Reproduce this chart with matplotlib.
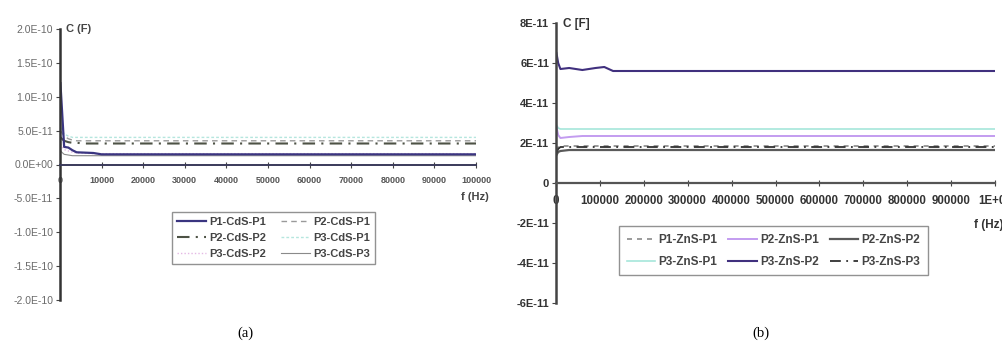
import matplotlib
matplotlib.use("Agg")
import matplotlib.pyplot as plt
import numpy as np
from matplotlib.ticker import FuncFormatter

# ---------------- data: panel (a) CdS ----------------
freq_a = [100, 1000, 2000, 3000, 4000, 6000, 8000, 10000, 20000, 40000, 60000, 80000, 100000]
p1_cds_p1 = [1.2e-10, 2.6e-11, 2.5e-11, 2.1e-11, 1.8e-11, 1.75e-11, 1.7e-11, 1.5e-11, 1.5e-11, 1.5e-11, 1.5e-11, 1.5e-11, 1.5e-11]
p2_cds_p1 = [5.0e-11, 4.2e-11, 3.8e-11, 3.6e-11, 3.5e-11, 3.5e-11, 3.5e-11, 3.5e-11, 3.5e-11, 3.5e-11, 3.5e-11, 3.5e-11, 3.5e-11]
p2_cds_p2 = [4.0e-11, 3.5e-11, 3.3e-11, 3.2e-11, 3.2e-11, 3.1e-11, 3.1e-11, 3.1e-11, 3.1e-11, 3.1e-11, 3.1e-11, 3.1e-11, 3.1e-11]
p3_cds_p1 = [5.5e-11, 4.5e-11, 4.2e-11, 4.0e-11, 4.0e-11, 4.0e-11, 4.0e-11, 4.0e-11, 4.0e-11, 4.0e-11, 4.0e-11, 4.0e-11, 4.0e-11]
p3_cds_p2 = [3.0e-11, 2.2e-11, 2.0e-11, 1.8e-11, 1.7e-11, 1.65e-11, 1.6e-11, 1.6e-11, 1.6e-11, 1.6e-11, 1.6e-11, 1.6e-11, 1.6e-11]
p3_cds_p3 = [2.0e-11, 1.5e-11, 1.4e-11, 1.3e-11, 1.3e-11, 1.3e-11, 1.3e-11, 1.3e-11, 1.3e-11, 1.3e-11, 1.3e-11, 1.3e-11, 1.3e-11]
yticks_a = [-2.0e-10, -1.5e-10, -1.0e-10, -5.0e-11, 0.0, 5.0e-11, 1.0e-10, 1.5e-10, 2.0e-10]
xticks_a = [0, 10000, 20000, 30000, 40000, 50000, 60000, 70000, 80000, 90000, 100000]

# ---------------- data: panel (b) ZnS ----------------
freq_b = [1000, 5000, 10000, 30000, 60000, 90000, 110000, 130000, 200000, 400000, 600000, 800000, 1000000]
p1_zns_p1 = [1.6e-11, 1.8e-11, 1.85e-11, 1.85e-11, 1.85e-11, 1.85e-11, 1.85e-11, 1.85e-11, 1.85e-11, 1.85e-11, 1.85e-11, 1.85e-11, 1.85e-11]
p2_zns_p1 = [2.8e-11, 2.4e-11, 2.25e-11, 2.3e-11, 2.35e-11, 2.35e-11, 2.35e-11, 2.35e-11, 2.35e-11, 2.35e-11, 2.35e-11, 2.35e-11, 2.35e-11]
p2_zns_p2 = [1.4e-11, 1.55e-11, 1.6e-11, 1.65e-11, 1.65e-11, 1.65e-11, 1.65e-11, 1.65e-11, 1.65e-11, 1.65e-11, 1.65e-11, 1.65e-11, 1.65e-11]
p3_zns_p1 = [2.9e-11, 2.75e-11, 2.7e-11, 2.7e-11, 2.7e-11, 2.7e-11, 2.7e-11, 2.7e-11, 2.7e-11, 2.7e-11, 2.7e-11, 2.7e-11, 2.7e-11]
p3_zns_p2 = [6.5e-11, 6.0e-11, 5.7e-11, 5.75e-11, 5.65e-11, 5.75e-11, 5.8e-11, 5.6e-11, 5.6e-11, 5.6e-11, 5.6e-11, 5.6e-11, 5.6e-11]
p3_zns_p3 = [1.5e-11, 1.7e-11, 1.8e-11, 1.8e-11, 1.8e-11, 1.8e-11, 1.8e-11, 1.8e-11, 1.8e-11, 1.8e-11, 1.8e-11, 1.8e-11, 1.8e-11]
yticks_b = [-6e-11, -4e-11, -2e-11, 0.0, 2e-11, 4e-11, 6e-11, 8e-11]
xticks_b = [0, 100000, 200000, 300000, 400000, 500000, 600000, 700000, 800000, 900000, 1000000]

fig = plt.figure(figsize=(10.03, 3.46), dpi=100)
plt.rcParams['font.family'] = ['Liberation Sans', 'DejaVu Sans']

W, H = 1003, 346
def fx(px): return px / W
def fy(py): return 1 - py / H

# ---------------- panel (a) ----------------
axa = fig.add_axes([fx(60), fy(300), fx(476 - 60), (300 - 29) / H])
axa.plot(freq_a, p3_cds_p1, color='#b5e6de', lw=1.0, ls=(0, (2, 1.5)), label='P3-CdS-P1')
axa.plot(freq_a, p2_cds_p1, color='#9a9a9a', lw=1.0, ls=(0, (4, 3)), label='P2-CdS-P1')
axa.plot(freq_a, p2_cds_p2, color='#4d5245', lw=1.5, ls=(0, (6, 3, 1, 3)), label='P2-CdS-P2')
axa.plot(freq_a, p3_cds_p2, color='#e4b8e4', lw=1.0, ls=(0, (1, 1.5)), label='P3-CdS-P2')
axa.plot(freq_a, p3_cds_p3, color='#8a8a8a', lw=0.8, label='P3-CdS-P3')
axa.plot(freq_a, p1_cds_p1, color='#3a3580', lw=1.6, label='P1-CdS-P1')
axa.set_xlim(0, 100000)
axa.set_ylim(-2e-10, 2e-10)
axa.set_yticks(yticks_a)
axa.set_xticks(xticks_a)
axa.yaxis.set_major_formatter(FuncFormatter(lambda v, p: f"{v:.1E}"))
axa.xaxis.set_major_formatter(FuncFormatter(lambda v, p: f"{int(round(v))}"))
axa.spines['top'].set_visible(False)
axa.spines['right'].set_visible(False)
axa.spines['bottom'].set_position(('data', 0))
axa.spines['left'].set_linewidth(1.8)
axa.spines['left'].set_color('#333333')
axa.spines['bottom'].set_linewidth(1.4)
axa.spines['bottom'].set_color('#3a3a5a')
axa.tick_params(axis='y', direction='out', length=3, labelsize=7.5, labelcolor='#6a6a6a', color='#444444', pad=2)
axa.tick_params(axis='x', direction='inout', length=4, labelsize=6.5, labelcolor='#555555', color='#444444', pad=6)
for t in axa.get_xticklabels():
    t.set_fontweight('bold')
axa.patch.set_alpha(0)
fig.text(fx(66), fy(29), 'C (F)', fontsize=8, fontweight='bold', color='#444444', va='center')
fig.text(fx(461), fy(197), 'f (Hz)', fontsize=8, fontweight='bold', color='#444444', va='center')

h_a = {l.get_label(): l for l in axa.get_lines()}
order_a = ['P1-CdS-P1', 'P2-CdS-P2', 'P3-CdS-P2', 'P2-CdS-P1', 'P3-CdS-P1', 'P3-CdS-P3']
fig.legend([h_a[k] for k in order_a], order_a, ncol=2, loc='upper left',
           bbox_to_anchor=(fx(172), fy(212)), frameon=True, fancybox=False,
           edgecolor='#777777', prop={'size': 8.0, 'weight': 'bold'}, labelcolor='#444444',
           handlelength=2.6, handletextpad=0.3, columnspacing=1.3,
           labelspacing=0.55, borderpad=0.45, borderaxespad=0)

# ---------------- panel (b) ----------------
axb = fig.add_axes([fx(556), fy(303), fx(995 - 556), (303 - 23) / H])
axb.plot(freq_b, p3_zns_p1, color='#a6e6da', lw=1.2, label='P3-ZnS-P1')
axb.plot(freq_b, p2_zns_p1, color='#c39cf0', lw=1.4, label='P2-ZnS-P1')
axb.plot(freq_b, p2_zns_p2, color='#5a5a5a', lw=1.6, label='P2-ZnS-P2')
axb.plot(freq_b, p1_zns_p1, color='#8a8a8a', lw=1.2, ls=(0, (3, 3)), label='P1-ZnS-P1')
axb.plot(freq_b, p3_zns_p3, color='#303030', lw=1.3, ls=(0, (6, 3, 1, 3)), label='P3-ZnS-P3')
axb.plot(freq_b, p3_zns_p2, color='#40307e', lw=1.5, label='P3-ZnS-P2')
axb.set_xlim(0, 1000000)
axb.set_ylim(-6e-11, 8e-11)
axb.set_yticks(yticks_b)
axb.set_xticks(xticks_b)

def fmt_by(v, p):
    if abs(v) < 1e-15:
        return '0'
    return f"{v:.0E}"

def fmt_bx(v, p):
    if v >= 999999:
        return '1E+06'
    return f"{int(round(v))}"

axb.yaxis.set_major_formatter(FuncFormatter(fmt_by))
axb.xaxis.set_major_formatter(FuncFormatter(fmt_bx))
axb.spines['top'].set_visible(False)
axb.spines['right'].set_visible(False)
axb.spines['bottom'].set_position(('data', 0))
axb.spines['left'].set_linewidth(1.8)
axb.spines['left'].set_color('#444444')
axb.spines['bottom'].set_linewidth(1.6)
axb.spines['bottom'].set_color('#555555')
axb.tick_params(axis='y', direction='out', length=3, labelsize=8, labelcolor='#333333', color='#444444', pad=2)
axb.tick_params(axis='x', direction='inout', length=4, labelsize=8.3, labelcolor='#333333', color='#444444', pad=7)
for t in axb.get_xticklabels() + axb.get_yticklabels():
    t.set_fontweight('bold')
axb.patch.set_alpha(0)
fig.text(fx(563), fy(24), 'C [F]', fontsize=8.5, fontweight='bold', color='#333333', va='center')
fig.text(fx(974), fy(225), 'f (Hz)', fontsize=8.5, fontweight='bold', color='#333333', va='center')

h_b = {l.get_label(): l for l in axb.get_lines()}
order_b = ['P1-ZnS-P1', 'P3-ZnS-P1', 'P2-ZnS-P1', 'P3-ZnS-P2', 'P2-ZnS-P2', 'P3-ZnS-P3']
fig.legend([h_b[k] for k in order_b], order_b, ncol=3, loc='upper left',
           bbox_to_anchor=(fx(619), fy(226)), frameon=True, fancybox=False,
           edgecolor='#777777', prop={'size': 8.5, 'weight': 'bold'}, labelcolor='#444444',
           handlelength=2.4, handletextpad=0.3, columnspacing=0.9,
           labelspacing=0.85, borderpad=0.65, borderaxespad=0)

# captions
fig.text(fx(245), fy(333), '(a)', fontsize=10.5, family='Liberation Serif', ha='center', va='center')
fig.text(fx(761), fy(333), '(b)', fontsize=10.5, family='Liberation Serif', ha='center', va='center')

fig.savefig('out.png', dpi=100)
